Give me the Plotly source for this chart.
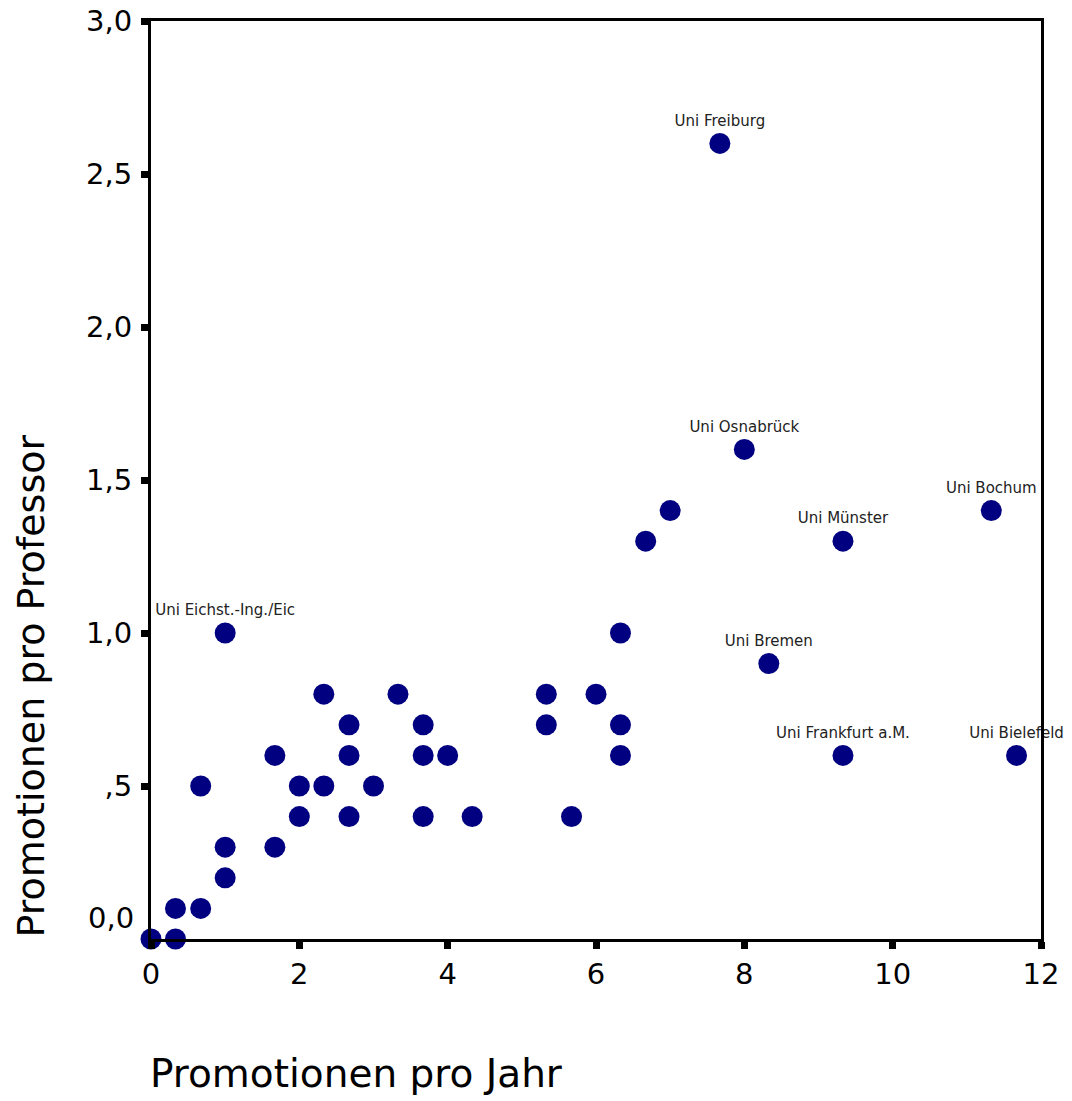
import plotly.graph_objects as go

# Data: Promotionen pro Jahr (x) vs. Promotionen pro Professor (y)
x_vals = [0, 0.33, 0.33, 0.67, 0.67, 1.0, 1.0, 1.0, 1.67, 1.67, 2.0, 2.0, 2.33, 2.33,
          2.67, 2.67, 2.67, 3.0, 3.33, 3.67, 3.67, 3.67, 4.0, 4.33, 5.33, 5.33, 5.67,
          6.0, 6.33, 6.33, 6.33, 6.67, 7.0, 7.67, 8.0, 8.33, 9.33, 9.33, 11.33, 11.67]
y_vals = [0.0, 0.1, 0.0, 0.1, 0.5, 1.0, 0.3, 0.2, 0.6, 0.3, 0.5, 0.4, 0.8, 0.5,
          0.7, 0.6, 0.4, 0.5, 0.8, 0.7, 0.6, 0.4, 0.6, 0.4, 0.8, 0.7, 0.4,
          0.8, 1.0, 0.7, 0.6, 1.3, 1.4, 2.6, 1.6, 0.9, 1.3, 0.6, 1.4, 0.6]
point_labels = ["", "", "", "", "", "Uni Eichst.-Ing./Eic", "", "", "", "", "", "", "", "",
                "", "", "", "", "", "", "", "", "", "", "", "", "",
                "", "", "", "", "", "", "Uni Freiburg", "Uni Osnabrück", "Uni Bremen",
                "Uni Münster", "Uni Frankfurt a.M.", "Uni Bochum", "Uni Bielefeld"]

y_tickvals = [0.5, 1.0, 1.5, 2.0, 2.5, 3.0]
y_ticktext = [",5", "1,0", "1,5", "2,0", "2,5", "3,0"]
x_tickvals = [0, 2, 4, 6, 8, 10, 12]
x_ticktext = ["0", "2", "4", "6", "8", "10", "12"]

FONT = "DejaVu Sans, Liberation Sans, Arial, sans-serif"

fig = go.Figure()
fig.add_trace(go.Scatter(
    x=x_vals, y=y_vals, mode="markers+text",
    text=point_labels, textposition="top center",
    textfont=dict(family=FONT, size=15, color="#222222"),
    marker=dict(size=21, color="#000080", line=dict(width=0)),
    cliponaxis=False, showlegend=False,
))

fig.update_layout(
    width=1072, height=1101,
    margin=dict(l=151, r=31, t=21, b=162),
    paper_bgcolor="white", plot_bgcolor="white",
    font=dict(family=FONT, color="black"),
    xaxis=dict(range=[0, 12], tickvals=x_tickvals, ticktext=x_ticktext, automargin=False,
               showgrid=False, zeroline=False, showline=True, linecolor="black",
               linewidth=3, mirror=True, ticks="outside", ticklen=7, tickwidth=7,
               tickcolor="black", tickfont=dict(size=29, family=FONT, color="black")),
    yaxis=dict(range=[0, 3], tickvals=y_tickvals, ticktext=y_ticktext, automargin=False,
               showgrid=False, zeroline=False, showline=True, linecolor="black",
               linewidth=3, mirror=True, ticks="outside", ticklen=7, tickwidth=7,
               tickcolor="black", ticklabelstandoff=3,
               tickfont=dict(size=29, family=FONT, color="black")),
    annotations=[
        dict(text="0,0", xref="paper", yref="paper", x=0, y=0.023, xanchor="right",
             yanchor="middle", xshift=-15, showarrow=False,
             font=dict(size=29, family=FONT, color="black")),
        dict(text="Promotionen pro Jahr", xref="paper", yref="paper", x=0, y=0,
             xanchor="left", yanchor="top", yshift=-110, xshift=-3, showarrow=False,
             font=dict(size=39, family=FONT, color="black")),
        dict(text="Promotionen pro Professor", xref="paper", yref="paper", x=0, y=0.275,
             xanchor="center", yanchor="middle", xshift=-120, textangle=-90, showarrow=False,
             font=dict(size=38, family=FONT, color="black")),
    ],
)

fig.write_html("out.html")
